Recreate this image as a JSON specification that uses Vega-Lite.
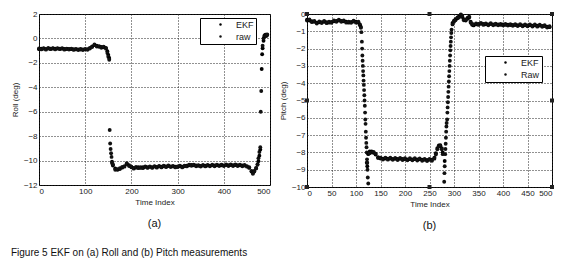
{
  "$schema": "https://vega.github.io/schema/vega-lite/v6.json",
  "background": "white",
  "padding": {"left": 10, "top": 9, "right": 5, "bottom": 8},
  "config": {
    "font": "Liberation Sans",
    "view": {"stroke": "black", "strokeWidth": 1},
    "axis": {"grid": true, "gridColor": "#222", "gridDash": [1, 2], "gridOpacity": 1, "domain": false, "ticks": false, "labelFont": "Liberation Sans", "labelFontSize": 8, "labelColor": "#222", "labelPadding": 2, "titleFont": "Liberation Sans", "titleFontSize": 8, "titleFontWeight": "normal", "titleColor": "#222"},
    "axisX": {"titlePadding": 3},
    "axisY": {"titlePadding": 4},
    "legend": {"strokeColor": "#000", "fillColor": "white", "padding": 2, "symbolType": "circle", "symbolSize": 6, "symbolStrokeWidth": 0, "labelFont": "Liberation Sans", "labelFontSize": 9, "labelColor": "#222", "rowPadding": 2, "symbolOffset": 14, "labelOffset": 11, "labelExpr": "datum.label + '    '"}
  },
  "title": {"text": "Figure 5 EKF on (a) Roll and  (b) Pitch measurements", "orient": "bottom", "anchor": "start", "fontSize": 10, "fontWeight": "normal", "font": "Liberation Sans", "color": "#111", "offset": 16},
  "spacing": 37,
  "bounds": "flush",
  "resolve": {"scale": {"color": "independent"}, "legend": {"color": "independent"}},
  "hconcat": [
    {
      "width": 231,
      "height": 171,
      "title": {"text": "(a)", "orient": "bottom", "fontSize": 11, "fontWeight": "normal", "color": "#111", "offset": 12},
      "data": {"name": "roll"},
      "transform": [{"fold": ["EKF", "raw"], "as": ["series", "value"]}, {"filter": "isValid(datum.value)"}],
      "mark": {"type": "point", "filled": true, "size": 15, "opacity": 1},
      "encoding": {
        "x": {"field": "t", "type": "quantitative", "scale": {"domain": [0, 500], "nice": false}, "axis": {"values": [0, 100, 200, 300, 400, 500], "title": "Time Index"}},
        "y": {"field": "value", "type": "quantitative", "scale": {"domain": [-12, 2], "nice": false, "zero": false}, "axis": {"values": [-12, -10, -8, -6, -4, -2, 0, 2], "title": "Roll (deg)"}},
        "color": {"field": "series", "type": "nominal", "scale": {"domain": ["EKF", "raw"], "range": ["#000000", "#111111"]}, "legend": {"title": null, "orient": "none", "legendX": 161, "legendY": 4}}
      }
    },
    {
      "width": 245,
      "height": 173,
      "title": {"text": "(b)", "orient": "bottom", "fontSize": 11, "fontWeight": "normal", "color": "#111", "offset": 12},
      "layer": [
        {
          "data": {"name": "pitch"},
          "transform": [{"fold": ["EKF", "Raw"], "as": ["series", "value"]}, {"filter": "isValid(datum.value)"}],
          "mark": {"type": "point", "filled": true, "size": 15, "opacity": 1},
          "encoding": {
            "x": {"field": "t", "type": "quantitative", "scale": {"domain": [0, 500], "nice": false}, "axis": {"values": [0, 50, 100, 150, 200, 250, 300, 350, 400, 450, 500], "title": "Time Index"}},
            "y": {"field": "value", "type": "quantitative", "scale": {"domain": [-10, 0], "nice": false, "zero": false}, "axis": {"values": [-10, -9, -8, -7, -6, -5, -4, -3, -2, -1, 0], "title": "Pitch (deg)"}},
            "color": {"field": "series", "type": "nominal", "scale": {"domain": ["EKF", "Raw"], "range": ["#000000", "#111111"]}, "legend": {"title": null, "orient": "none", "legendX": 178, "legendY": 42}}
          }
        },
        {
          "data": {"name": "corners"},
          "mark": {"type": "square", "size": 16, "color": "#222", "opacity": 1},
          "encoding": {
            "x": {"field": "t", "type": "quantitative", "axis": {"values": [0, 50, 100, 150, 200, 250, 300, 350, 400, 450, 500], "title": "Time Index"}},
            "y": {"field": "v", "type": "quantitative", "axis": {"values": [-10, -9, -8, -7, -6, -5, -4, -3, -2, -1, 0], "title": "Pitch (deg)"}}
          }
        }
      ]
    }
  ],
  "datasets": {
    "corners": [
      {"t": 0, "v": 0}, {"t": 250, "v": 0}, {"t": 500, "v": 0},
      {"t": 0, "v": -5}, {"t": 500, "v": -5},
      {"t": 0, "v": -10}, {"t": 250, "v": -10}, {"t": 500, "v": -10}
    ],
    "roll": [
      {"t": 0, "EKF": -0.88, "raw": -0.82}, {"t": 5, "EKF": -0.85, "raw": -0.9}, {"t": 10, "EKF": -0.84, "raw": -0.8},
      {"t": 15, "EKF": -0.86, "raw": -0.92}, {"t": 20, "EKF": -0.83, "raw": -0.78}, {"t": 25, "EKF": -0.85, "raw": -0.88},
      {"t": 30, "EKF": -0.82, "raw": -0.8}, {"t": 35, "EKF": -0.84, "raw": -0.9}, {"t": 40, "EKF": -0.83, "raw": -0.79},
      {"t": 45, "EKF": -0.85, "raw": -0.88}, {"t": 50, "EKF": -0.84, "raw": -0.8}, {"t": 55, "EKF": -0.86, "raw": -0.92},
      {"t": 60, "EKF": -0.87, "raw": -0.83}, {"t": 65, "EKF": -0.86, "raw": -0.91}, {"t": 70, "EKF": -0.88, "raw": -0.84},
      {"t": 75, "EKF": -0.89, "raw": -0.94}, {"t": 80, "EKF": -0.9, "raw": -0.86}, {"t": 85, "EKF": -0.9, "raw": -0.95},
      {"t": 90, "EKF": -0.91, "raw": -0.87}, {"t": 95, "EKF": -0.9, "raw": -0.95}, {"t": 100, "EKF": -0.9, "raw": -0.86},
      {"t": 105, "EKF": -0.88, "raw": -0.93}, {"t": 110, "EKF": -0.82, "raw": -0.78}, {"t": 115, "EKF": -0.65, "raw": -0.7},
      {"t": 120, "EKF": -0.55, "raw": -0.5}, {"t": 125, "EKF": -0.6, "raw": -0.66}, {"t": 130, "EKF": -0.68, "raw": -0.63},
      {"t": 135, "EKF": -0.7, "raw": -0.76}, {"t": 140, "EKF": -0.72, "raw": -0.68}, {"t": 145, "EKF": -0.78, "raw": -0.84},
      {"t": 148, "EKF": -1.05, "raw": -1.2}, {"t": 150, "EKF": -1.35, "raw": -1.5}, {"t": 152, "EKF": -1.6, "raw": -1.75},
      {"t": 153, "raw": -7.5}, {"t": 154, "raw": -8.6}, {"t": 155, "raw": -9.05}, {"t": 156, "raw": -9.4}, {"t": 157, "raw": -9.7},
      {"t": 158, "EKF": -10.1, "raw": -10.2}, {"t": 160, "EKF": -10.4, "raw": -10.3}, {"t": 165, "EKF": -10.65, "raw": -10.75},
      {"t": 170, "EKF": -10.75, "raw": -10.7}, {"t": 175, "EKF": -10.7, "raw": -10.62}, {"t": 180, "EKF": -10.58, "raw": -10.52},
      {"t": 185, "EKF": -10.45, "raw": -10.5}, {"t": 190, "EKF": -10.28, "raw": -10.22}, {"t": 195, "EKF": -10.38, "raw": -10.45},
      {"t": 200, "EKF": -10.55, "raw": -10.5}, {"t": 205, "EKF": -10.6, "raw": -10.66}, {"t": 210, "EKF": -10.58, "raw": -10.52},
      {"t": 215, "EKF": -10.55, "raw": -10.62}, {"t": 220, "EKF": -10.6, "raw": -10.55}, {"t": 225, "EKF": -10.55, "raw": -10.62},
      {"t": 230, "EKF": -10.52, "raw": -10.47}, {"t": 235, "EKF": -10.55, "raw": -10.6}, {"t": 240, "EKF": -10.52, "raw": -10.47},
      {"t": 245, "EKF": -10.55, "raw": -10.6}, {"t": 250, "EKF": -10.5, "raw": -10.45}, {"t": 255, "EKF": -10.52, "raw": -10.58},
      {"t": 260, "EKF": -10.48, "raw": -10.43}, {"t": 265, "EKF": -10.5, "raw": -10.56}, {"t": 270, "EKF": -10.46, "raw": -10.41},
      {"t": 275, "EKF": -10.48, "raw": -10.54}, {"t": 280, "EKF": -10.45, "raw": -10.4}, {"t": 285, "EKF": -10.47, "raw": -10.53},
      {"t": 290, "EKF": -10.48, "raw": -10.43}, {"t": 295, "EKF": -10.5, "raw": -10.56}, {"t": 300, "EKF": -10.48, "raw": -10.53},
      {"t": 305, "EKF": -10.46, "raw": -10.41}, {"t": 310, "EKF": -10.5, "raw": -10.56}, {"t": 315, "EKF": -10.47, "raw": -10.42},
      {"t": 320, "EKF": -10.42, "raw": -10.48}, {"t": 325, "EKF": -10.38, "raw": -10.33}, {"t": 330, "EKF": -10.36, "raw": -10.42},
      {"t": 335, "EKF": -10.38, "raw": -10.33}, {"t": 340, "EKF": -10.4, "raw": -10.46}, {"t": 345, "EKF": -10.42, "raw": -10.37},
      {"t": 350, "EKF": -10.43, "raw": -10.49}, {"t": 355, "EKF": -10.41, "raw": -10.36}, {"t": 360, "EKF": -10.42, "raw": -10.48},
      {"t": 365, "EKF": -10.4, "raw": -10.35}, {"t": 370, "EKF": -10.41, "raw": -10.47}, {"t": 375, "EKF": -10.39, "raw": -10.34},
      {"t": 380, "EKF": -10.4, "raw": -10.46}, {"t": 385, "EKF": -10.38, "raw": -10.33}, {"t": 390, "EKF": -10.39, "raw": -10.45},
      {"t": 395, "EKF": -10.38, "raw": -10.33}, {"t": 400, "EKF": -10.39, "raw": -10.45}, {"t": 405, "EKF": -10.37, "raw": -10.32},
      {"t": 410, "EKF": -10.38, "raw": -10.44}, {"t": 415, "EKF": -10.37, "raw": -10.32}, {"t": 420, "EKF": -10.38, "raw": -10.44},
      {"t": 425, "EKF": -10.37, "raw": -10.32}, {"t": 430, "EKF": -10.38, "raw": -10.44}, {"t": 435, "EKF": -10.39, "raw": -10.34},
      {"t": 440, "EKF": -10.4, "raw": -10.46}, {"t": 445, "EKF": -10.41, "raw": -10.36}, {"t": 450, "EKF": -10.45, "raw": -10.5},
      {"t": 455, "EKF": -10.6, "raw": -10.55}, {"t": 460, "EKF": -10.9, "raw": -10.85}, {"t": 463, "EKF": -11.02, "raw": -11.08},
      {"t": 466, "EKF": -10.85, "raw": -10.9}, {"t": 470, "EKF": -10.6, "raw": -10.65}, {"t": 473, "EKF": -10.3, "raw": -10.35},
      {"t": 475, "EKF": -10.05, "raw": -9.8}, {"t": 477, "EKF": -9.6, "raw": -9.3}, {"t": 479, "EKF": -9.1, "raw": -8.9},
      {"t": 480, "raw": -6.0}, {"t": 481, "raw": -4.3}, {"t": 482, "EKF": -2.5}, {"t": 483, "EKF": -1.3},
      {"t": 484, "EKF": -0.8, "raw": -0.6}, {"t": 486, "EKF": -0.2, "raw": 0}, {"t": 488, "EKF": 0.15, "raw": 0.25},
      {"t": 490, "EKF": 0.25, "raw": 0.3}, {"t": 492, "EKF": 0.3, "raw": 0.2}, {"t": 494, "EKF": 0.28, "raw": 0.32}
    ],
    "pitch": [
      {"t": 0, "EKF": -0.33, "Raw": -0.38}, {"t": 5, "EKF": -0.38, "Raw": -0.32}, {"t": 10, "EKF": -0.42, "Raw": -0.47},
      {"t": 15, "EKF": -0.45, "Raw": -0.4}, {"t": 20, "EKF": -0.5, "Raw": -0.55}, {"t": 25, "EKF": -0.48, "Raw": -0.43},
      {"t": 30, "EKF": -0.47, "Raw": -0.52}, {"t": 35, "EKF": -0.45, "Raw": -0.4}, {"t": 40, "EKF": -0.48, "Raw": -0.53},
      {"t": 45, "EKF": -0.5, "Raw": -0.45}, {"t": 50, "EKF": -0.46, "Raw": -0.51}, {"t": 55, "EKF": -0.42, "Raw": -0.37},
      {"t": 60, "EKF": -0.4, "Raw": -0.45}, {"t": 65, "EKF": -0.38, "Raw": -0.33}, {"t": 70, "EKF": -0.4, "Raw": -0.45},
      {"t": 75, "EKF": -0.42, "Raw": -0.37}, {"t": 80, "EKF": -0.45, "Raw": -0.5}, {"t": 85, "EKF": -0.5, "Raw": -0.45},
      {"t": 90, "EKF": -0.46, "Raw": -0.51}, {"t": 95, "EKF": -0.44, "Raw": -0.39}, {"t": 100, "EKF": -0.45, "Raw": -0.5},
      {"t": 105, "EKF": -0.5, "Raw": -0.45}, {"t": 108, "EKF": -0.6, "Raw": -0.65}, {"t": 110, "EKF": -0.75, "Raw": -0.8},
      {"t": 111, "Raw": -1.05}, {"t": 112, "Raw": -1.6}, {"t": 112.5, "Raw": -2.0}, {"t": 113, "Raw": -2.4},
      {"t": 113.5, "Raw": -2.7}, {"t": 114, "Raw": -3.0}, {"t": 114.5, "Raw": -3.3}, {"t": 115, "Raw": -3.55},
      {"t": 115.5, "Raw": -3.85}, {"t": 116, "Raw": -4.1}, {"t": 116.5, "Raw": -4.4}, {"t": 117, "Raw": -4.7},
      {"t": 117.5, "Raw": -5.0}, {"t": 118, "Raw": -5.3}, {"t": 118.5, "Raw": -5.7}, {"t": 119, "Raw": -6.1},
      {"t": 119.5, "Raw": -6.35}, {"t": 120, "Raw": -6.8}, {"t": 120.5, "Raw": -7.15}, {"t": 121, "Raw": -7.45},
      {"t": 121.5, "Raw": -7.7}, {"t": 122, "EKF": -8.6, "Raw": -8.0}, {"t": 122.5, "Raw": -8.4}, {"t": 123, "EKF": -8.8, "Raw": -8.6},
      {"t": 123.5, "Raw": -9.0}, {"t": 124, "Raw": -9.45}, {"t": 125, "EKF": -8.1, "Raw": -9.8},
      {"t": 128, "EKF": -7.95, "Raw": -8.05}, {"t": 132, "EKF": -7.95, "Raw": -8.0}, {"t": 136, "EKF": -8.02, "Raw": -7.97},
      {"t": 140, "EKF": -8.12, "Raw": -8.07}, {"t": 145, "EKF": -8.28, "Raw": -8.33}, {"t": 150, "EKF": -8.35, "Raw": -8.3},
      {"t": 155, "EKF": -8.36, "Raw": -8.41}, {"t": 160, "EKF": -8.35, "Raw": -8.3}, {"t": 165, "EKF": -8.37, "Raw": -8.42},
      {"t": 170, "EKF": -8.36, "Raw": -8.31}, {"t": 175, "EKF": -8.38, "Raw": -8.43}, {"t": 180, "EKF": -8.37, "Raw": -8.32},
      {"t": 185, "EKF": -8.38, "Raw": -8.44}, {"t": 190, "EKF": -8.37, "Raw": -8.32}, {"t": 195, "EKF": -8.38, "Raw": -8.44},
      {"t": 200, "EKF": -8.39, "Raw": -8.34}, {"t": 205, "EKF": -8.4, "Raw": -8.46}, {"t": 210, "EKF": -8.39, "Raw": -8.34},
      {"t": 215, "EKF": -8.4, "Raw": -8.46}, {"t": 220, "EKF": -8.39, "Raw": -8.34}, {"t": 225, "EKF": -8.41, "Raw": -8.47},
      {"t": 230, "EKF": -8.4, "Raw": -8.35}, {"t": 235, "EKF": -8.42, "Raw": -8.48}, {"t": 240, "EKF": -8.43, "Raw": -8.38},
      {"t": 245, "EKF": -8.44, "Raw": -8.5}, {"t": 250, "EKF": -8.43, "Raw": -8.38}, {"t": 255, "EKF": -8.42, "Raw": -8.48},
      {"t": 260, "EKF": -8.3, "Raw": -8.36}, {"t": 263, "EKF": -8.05, "Raw": -8.12}, {"t": 266, "EKF": -7.75, "Raw": -7.82},
      {"t": 269, "EKF": -7.6, "Raw": -7.66}, {"t": 272, "EKF": -7.58, "Raw": -7.63}, {"t": 275, "EKF": -7.75, "Raw": -7.82},
      {"t": 277, "EKF": -8.0, "Raw": -8.1},
      {"t": 280, "Raw": -9.7}, {"t": 280.5, "Raw": -9.2}, {"t": 281, "EKF": -8.5, "Raw": -8.8}, {"t": 282, "Raw": -8.1},
      {"t": 282.5, "Raw": -7.8}, {"t": 283, "Raw": -7.5}, {"t": 283.5, "Raw": -7.15}, {"t": 284, "Raw": -6.8},
      {"t": 284.5, "Raw": -6.5}, {"t": 285, "Raw": -6.3},
      {"t": 286, "Raw": -6.1}, {"t": 286.5, "Raw": -5.7}, {"t": 287, "Raw": -5.4}, {"t": 287.5, "Raw": -5.1},
      {"t": 288, "Raw": -4.8}, {"t": 288.5, "Raw": -4.5}, {"t": 289, "Raw": -4.2}, {"t": 289.5, "Raw": -3.9},
      {"t": 290, "Raw": -3.6}, {"t": 290.5, "Raw": -3.3}, {"t": 291, "Raw": -3.0}, {"t": 291.5, "Raw": -2.7},
      {"t": 292, "Raw": -2.4}, {"t": 292.5, "Raw": -2.1}, {"t": 293, "Raw": -1.85}, {"t": 293.5, "Raw": -1.6},
      {"t": 294, "Raw": -1.35}, {"t": 294.5, "Raw": -1.1}, {"t": 295, "Raw": -0.9},
      {"t": 297, "EKF": -0.52, "Raw": -0.6}, {"t": 300, "EKF": -0.38, "Raw": -0.45}, {"t": 303, "EKF": -0.3, "Raw": -0.36},
      {"t": 307, "EKF": -0.25, "Raw": -0.2}, {"t": 310, "EKF": -0.15, "Raw": -0.2}, {"t": 314, "EKF": -0.06, "Raw": -0.02},
      {"t": 317, "EKF": -0.18, "Raw": -0.12}, {"t": 320, "EKF": -0.3, "Raw": -0.36}, {"t": 324, "EKF": -0.38, "Raw": -0.32},
      {"t": 328, "EKF": -0.22, "Raw": -0.28}, {"t": 331, "EKF": -0.2, "Raw": -0.15}, {"t": 334, "EKF": -0.45, "Raw": -0.5},
      {"t": 337, "EKF": -0.62, "Raw": -0.57}, {"t": 340, "EKF": -0.66, "Raw": -0.6}, {"t": 345, "EKF": -0.6, "Raw": -0.55},
      {"t": 350, "EKF": -0.58, "Raw": -0.63}, {"t": 355, "EKF": -0.57, "Raw": -0.52}, {"t": 360, "EKF": -0.58, "Raw": -0.63},
      {"t": 365, "EKF": -0.59, "Raw": -0.54}, {"t": 370, "EKF": -0.6, "Raw": -0.65}, {"t": 375, "EKF": -0.58, "Raw": -0.53},
      {"t": 380, "EKF": -0.6, "Raw": -0.65}, {"t": 385, "EKF": -0.61, "Raw": -0.56}, {"t": 390, "EKF": -0.6, "Raw": -0.65},
      {"t": 395, "EKF": -0.62, "Raw": -0.57}, {"t": 400, "EKF": -0.61, "Raw": -0.66}, {"t": 405, "EKF": -0.63, "Raw": -0.58},
      {"t": 410, "EKF": -0.62, "Raw": -0.67}, {"t": 415, "EKF": -0.64, "Raw": -0.59}, {"t": 420, "EKF": -0.63, "Raw": -0.68},
      {"t": 425, "EKF": -0.64, "Raw": -0.59}, {"t": 430, "EKF": -0.65, "Raw": -0.7}, {"t": 435, "EKF": -0.64, "Raw": -0.59},
      {"t": 440, "EKF": -0.66, "Raw": -0.71}, {"t": 445, "EKF": -0.65, "Raw": -0.6}, {"t": 450, "EKF": -0.66, "Raw": -0.71},
      {"t": 455, "EKF": -0.65, "Raw": -0.6}, {"t": 460, "EKF": -0.67, "Raw": -0.72}, {"t": 465, "EKF": -0.66, "Raw": -0.61},
      {"t": 470, "EKF": -0.68, "Raw": -0.73}, {"t": 475, "EKF": -0.67, "Raw": -0.62}, {"t": 480, "EKF": -0.69, "Raw": -0.74},
      {"t": 485, "EKF": -0.7, "Raw": -0.65}, {"t": 490, "EKF": -0.73, "Raw": -0.78}, {"t": 495, "EKF": -0.76, "Raw": -0.71}
    ]
  }
}
